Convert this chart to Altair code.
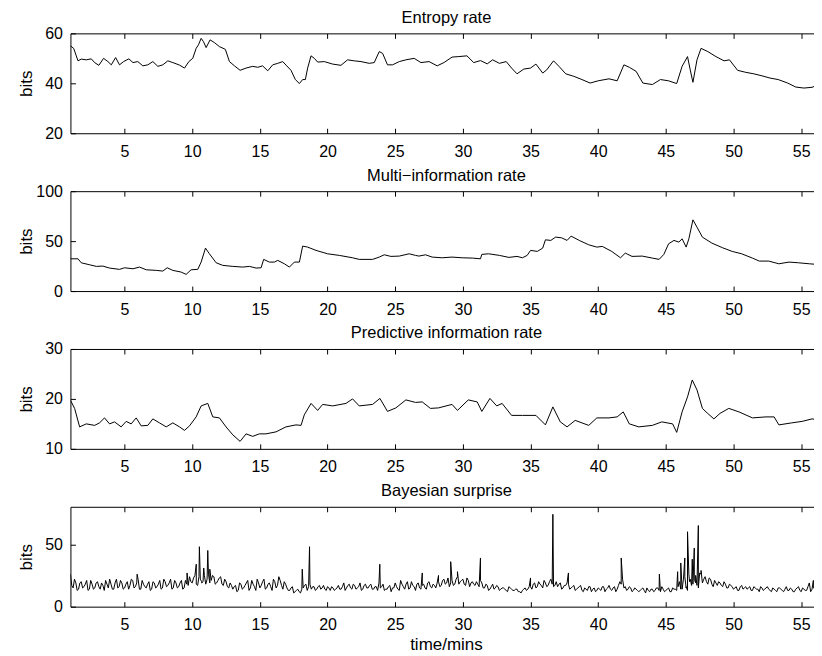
import altair as alt
import pandas as pd

FONT = "Liberation Sans"
W, H = 752, 100

x_ticks = [5, 10, 15, 20, 25, 30, 35, 40, 45, 50, 55]

entropy_t = [1.0, 1.24, 1.56, 1.8, 2.17, 2.54, 2.79, 3.1, 3.45, 3.77,
             4.02, 4.34, 4.63, 4.93, 5.32, 5.62, 5.98, 6.35, 6.72, 7.09,
             7.46, 7.83, 8.2, 8.57, 9.06, 9.43, 9.75, 10.04, 10.29, 10.46,
             10.66, 10.83, 11.03, 11.32, 11.64, 12.01, 12.45, 12.75, 13.12, 13.54,
             13.98, 14.47, 14.84, 15.2, 15.58, 15.95, 16.32, 16.69, 16.98, 17.3,
             17.62, 17.92, 18.16, 18.36, 18.53, 18.78, 19.02, 19.27, 19.76, 20.38,
             20.99, 21.48, 21.97, 22.47, 23.08, 23.45, 23.82, 24.07, 24.43, 24.8,
             25.3, 25.79, 26.4, 26.9, 27.5, 28.1, 28.6, 29.2, 29.7, 30.3,
             30.8, 31.3, 31.8, 32.2, 32.7, 33.2, 33.6, 34.0, 34.5, 35.0,
             35.4, 35.9, 36.2, 36.7, 37.1, 37.6, 38.2, 38.8, 39.4, 40.0,
             40.8, 41.4, 41.9, 42.3, 42.8, 43.3, 44.0, 44.6, 45.2, 45.8,
             46.2, 46.6, 46.8, 47.0, 47.3, 47.6, 48.1, 48.7, 49.3, 49.7,
             50.3, 50.9, 51.5, 52.1, 52.7, 53.3, 54.0, 54.6, 55.2, 55.8,
             56.5]
entropy_v = [55, 54, 49, 49.7, 49.4, 49.8, 48.3, 47.2, 50, 48.7,
             47.4, 50.3, 47.4, 48.7, 49.8, 48.3, 48.7, 47, 47.4, 48.7,
             46.8, 47.4, 49, 48.3, 47.3, 46.1, 48.7, 50, 54, 55.4,
             58, 56.7, 54.3, 57.4, 56.3, 54.7, 53.6, 48.7, 47, 45.2,
             46.1, 46.8, 46.4, 47, 45, 47.4, 48, 48.7, 47, 45.2,
             41.5, 39.9, 41.5, 41.5, 46.1, 51, 50, 48.5, 48.7, 47.7,
             47.2, 49.4, 49, 48.7, 48, 48.3, 52.7, 52, 47.4, 47.4,
             48.7, 49.4, 50, 48.3, 48.7, 47, 48.3, 50.5, 50.7, 51,
             48.3, 49.1, 47.8, 49.4, 48, 48.7, 46.1, 43.8, 45.7, 46.1,
             47.7, 44.1, 45.4, 49, 46.8, 43.8, 42.8, 41.5, 40.1, 41,
             41.8, 41, 47.4, 46.4, 44.8, 40.1, 39.5, 41.5, 41, 39.9,
             46.8, 50.7, 45.4, 40.4, 49.4, 54, 52.7, 50.7, 49, 49.4,
             45.2, 44.4, 43.8, 43, 42.1, 41.5, 40.1, 38.5, 38.1, 38.4,
             39.9]

multi_t = [1.01, 1.56, 1.8, 2.42, 2.91, 3.4, 3.89, 4.63, 5.0, 5.62,
           6.11, 6.6, 7.34, 7.83, 8.15, 8.57, 9.18, 9.55, 9.92, 10.41,
           10.66, 10.98, 11.27, 11.77, 12.26, 13.0, 13.73, 14.23, 14.72, 15.09,
           15.28, 15.7, 16.07, 16.32, 16.81, 17.18, 17.55, 17.92, 18.16, 18.53,
           19.15, 20.0, 20.87, 21.85, 22.34, 23.33, 23.82, 24.19, 24.68, 25.3,
           26.03, 26.5, 26.75, 27.24, 27.73, 28.47, 29.2, 29.95, 30.7, 31.3,
           31.4, 31.9, 32.7, 33.4, 34.0, 34.4, 34.75, 35.0, 35.5, 35.9,
           36.1, 36.5, 36.85, 37.3, 37.7, 38.0, 38.6, 39.3, 39.9, 40.3,
           41.0, 41.65, 42.0, 42.5, 43.25, 44.0, 44.5, 44.85, 45.2, 45.6,
           45.96, 46.2, 46.5, 46.7, 47.0, 47.3, 47.7, 48.4, 49.2, 49.9,
           50.6, 51.4, 51.9, 52.6, 53.35, 54.1, 54.8, 55.6, 56.5]
multi_v = [32.3, 32.3, 28.3, 26.3, 24.7, 25, 23, 21.7, 23.3, 22.3,
           24, 21.3, 20.7, 20, 23.3, 20.7, 19, 16.7, 21.3, 21.7,
           29, 43, 37.3, 28.3, 25.7, 24.7, 24, 24.7, 23, 23.3,
           31.7, 29, 29, 30.7, 27.3, 24, 29, 29, 45, 44,
           40.7, 37.3, 35.7, 33.3, 31.7, 31.7, 34, 36.3, 34.7, 35,
           37.3, 35.7, 35, 36.3, 34, 33.3, 34, 33.3, 33, 32.3,
           36.7, 37.3, 35.7, 33.7, 34.7, 33.3, 35.7, 40.7, 39.7, 43,
           51.3, 50.7, 54, 53.3, 50.7, 55, 50.7, 46.3, 44, 44.7,
           39.7, 33.3, 38, 34.7, 35, 33, 31.7, 36.7, 47.3, 50.7,
           49, 52.3, 44, 52.3, 71.3, 64, 54, 48, 43.3, 39.7,
           37.3, 33, 30, 30, 27.3, 29, 28.3, 27.3, 26.3]

pred_t = [1.01, 1.31, 1.68, 2.17, 2.79, 3.15, 3.52, 3.89, 4.26, 4.75,
          5.12, 5.49, 5.86, 6.23, 6.72, 7.09, 7.58, 8.08, 8.57, 9.06,
          9.43, 9.8, 10.29, 10.66, 11.15, 11.52, 12.01, 12.5, 13.0, 13.54,
          13.98, 14.47, 14.96, 15.45, 16.19, 16.93, 17.67, 18.04, 18.28, 18.78,
          19.27, 19.64, 20.38, 21.36, 21.85, 22.34, 23.33, 23.87, 24.43, 25.05,
          25.79, 26.5, 27.0, 27.6, 28.2, 29.2, 29.6, 30.4, 31.06, 31.4,
          32.0, 32.5, 32.9, 33.6, 34.4, 35.4, 36.1, 36.65, 37.2, 37.7,
          38.3, 39.3, 39.9, 40.8, 41.4, 41.85, 42.3, 43.0, 44.0, 44.7,
          45.5, 45.8, 46.2, 46.6, 46.95, 47.3, 47.7, 48.05, 48.55, 49.0,
          49.65, 50.4, 51.4, 52.4, 53.0, 53.35, 54.3, 55.07, 55.8, 56.5]
pred_v = [19.7, 18.1, 14.4, 15, 14.7, 15.2, 16.2, 15, 15.4, 14.4,
          15.5, 15, 16.2, 14.6, 14.7, 16, 15.2, 14.4, 15.2, 14.4,
          13.7, 14.6, 16.4, 18.6, 19.1, 16.4, 16.2, 14.4, 12.8, 11.5,
          13, 12.5, 13, 13, 13.4, 14.4, 14.8, 14.7, 16.8, 19.1,
          17.7, 18.9, 18.6, 19.1, 20, 18.6, 18.9, 20.1, 17.5, 18.2,
          19.8, 19.3, 19.4, 18.1, 18.2, 18.9, 17.7, 19.8, 19.4, 17.5,
          20.1, 18.6, 19.1, 16.7, 16.7, 16.7, 14.8, 18.4, 15.4, 14.4,
          15.7, 14.7, 16.2, 16.2, 16.4, 17.4, 15, 14.4, 14.7, 15.4,
          15, 13.3, 17.4, 20.4, 23.8, 21.8, 18.1, 17.2, 16, 17.1,
          18.1, 17.4, 16.2, 16.4, 16.4, 14.8, 15.2, 15.5, 16, 15.7]

# Bayesian surprise: background readings every 0.2 min from t = 1.0,
# and the readings in between (t = 1.1, 1.3, ...)
surprise_start = 1.0
surprise_step = 0.2
surprise_base = [26, 15, 19, 14, 20, 16, 21, 14, 18, 15,
                 20, 14, 17, 21, 15, 18, 14, 22, 16, 19,
                 15, 20, 17, 21, 16, 22, 14, 18, 15, 20,
                 14, 19, 16, 21, 15, 20, 17, 22, 15, 19,
                 16, 21, 15, 18, 24, 19, 25, 17, 22, 20,
                 18, 26, 21, 24, 19, 23, 18, 22, 16, 19,
                 14, 17, 13, 18, 15, 19, 13, 21, 16, 22,
                 15, 20, 14, 18, 16, 22, 15, 24, 17, 20,
                 15, 13, 16, 12, 14, 11, 15, 18, 16, 14,
                 16, 14, 17, 15, 14, 16, 13, 15, 14, 17,
                 14, 19, 15, 18, 14, 17, 15, 19, 14, 18,
                 15, 18, 14, 16, 19, 16, 13, 14, 17, 15,
                 19, 14, 21, 16, 18, 14, 20, 16, 18, 15,
                 17, 15, 19, 16, 18, 15, 20, 17, 22, 19,
                 16, 21, 18, 24, 20, 22, 17, 21, 19, 18,
                 20, 16, 19, 15, 17, 14, 18, 15, 16, 14,
                 15, 13, 16, 14, 13, 14, 12, 13, 15, 14,
                 16, 18, 15, 20, 17, 21, 16, 20, 18, 17,
                 16, 19, 15, 17, 18, 15, 17, 14, 16, 13,
                 15, 13, 16, 14, 12, 15, 13, 16, 14, 17,
                 13, 16, 14, 20, 22, 16, 14, 15, 13, 14,
                 12, 14, 13, 15, 12, 14, 13, 15, 12, 14,
                 13, 15, 12, 14, 13, 20, 14, 24, 13, 22,
                 18, 25, 15, 26, 22, 20, 23, 18, 21, 17,
                 19, 16, 18, 15, 17, 14, 16, 13, 17, 15,
                 14, 16, 13, 15, 14, 16, 13, 15, 14, 12,
                 14, 12, 15, 13, 14, 13, 15, 12, 14, 16,
                 12, 14, 13, 19, 14, 15, 12, 16]
surprise_mid = [17, 22, 13, 19, 15, 18, 13, 21, 14, 19,
                16, 19, 13, 18, 22, 14, 19, 15, 21, 14,
                18, 14, 22, 15, 19, 14, 21, 16, 18, 13,
                20, 15, 18, 14, 22, 16, 19, 14, 21, 15,
                19, 14, 21, 17, 20, 23, 18, 24, 19, 25,
                22, 19, 25, 18, 21, 24, 17, 20, 15, 17,
                16, 12, 19, 14, 17, 21, 15, 18, 13, 19,
                17, 22, 15, 19, 13, 20, 17, 21, 14, 18,
                13, 15, 11, 13, 12, 14, 17, 13, 18, 16,
                13, 16, 14, 17, 13, 15, 16, 13, 15, 14,
                16, 13, 17, 15, 18, 14, 16, 13, 17, 15,
                17, 14, 16, 13, 15, 18, 14, 16, 12, 15,
                16, 13, 18, 14, 20, 15, 17, 13, 19, 14,
                18, 14, 20, 15, 17, 19, 16, 21, 18, 23,
                19, 17, 22, 18, 21, 18, 23, 16, 20, 17,
                18, 21, 15, 18, 13, 16, 14, 17, 13, 15,
                14, 12, 15, 13, 14, 12, 11, 14, 13, 16,
                14, 19, 16, 18, 15, 19, 17, 22, 16, 20,
                18, 14, 17, 19, 14, 16, 13, 15, 17, 12,
                14, 16, 12, 15, 13, 14, 16, 12, 15, 14,
                15, 12, 17, 18, 15, 13, 16, 12, 15, 13,
                13, 15, 11, 13, 14, 12, 15, 13, 16, 12,
                14, 12, 15, 14, 16, 14, 22, 15, 26, 17,
                22, 17, 27, 19, 24, 18, 22, 16, 19, 20,
                17, 20, 15, 18, 16, 15, 13, 16, 14, 16,
                15, 13, 16, 14, 12, 15, 14, 16, 13, 15,
                13, 15, 14, 12, 16, 13, 14, 12, 15, 13,
                15, 13, 16, 12, 15, 14, 13]
spike_t = [5.93, 9.62, 10.3, 10.53, 10.7, 10.85, 11.15, 11.3, 18.13, 18.67,
           23.86, 27.0, 28.2, 29.1, 29.6, 31.3, 35.0, 36.65, 37.8, 41.7,
           44.52, 45.87, 46.1, 46.25, 46.4, 46.5, 46.6, 46.75, 46.95, 47.1,
           47.2, 47.4, 47.6, 55.9]
spike_v = [26, 27, 34, 48, 20, 31, 45, 30, 30, 48,
           34, 27, 25, 36, 28, 39, 23, 74, 27, 39,
           26, 28, 35, 18, 39, 16, 60, 20, 38, 47,
           19, 65, 29, 21]


def series_df(ts, vs):
    return pd.DataFrame({"t": ts, "v": vs})


surprise_t = [surprise_start + surprise_step * i for i in range(len(surprise_base))]
surprise_mid_t = [surprise_start + surprise_step * (i + 0.5) for i in range(len(surprise_mid))]
surprise_df = pd.concat([series_df(surprise_t, surprise_base),
                         series_df(surprise_mid_t, surprise_mid),
                         series_df(spike_t, spike_v)]).sort_values("t").reset_index(drop=True)

TICK = dict(ticks=True, tickSize=5, tickColor="black", tickWidth=1, offset=-5,
            domain=False, grid=False)
LBL = dict(labelFontSize=16, labelFont=FONT, labelColor="black", labelFlush=False)


def panel(df, title, ydomain, yticks, xtitle=None):
    xs = alt.Scale(domain=[1, 56.5], nice=False, zero=False)
    ys = alt.Scale(domain=ydomain, nice=False, zero=False)

    bottom_kw = dict(orient="bottom", values=x_ticks, labelPadding=10, **TICK, **LBL)
    if xtitle:
        bottom_kw.update(title=xtitle, titleFont=FONT, titleFontSize=17,
                         titleFontWeight="normal", titleColor="black", titlePadding=4)
    else:
        bottom_kw.update(title=None)
    left = alt.Axis(orient="left", values=yticks, labelPadding=8, **TICK, **LBL,
                    title="bits", titleFont=FONT, titleFontSize=17,
                    titleFontWeight="normal", titleColor="black",
                    titleX=-49, titleY=H / 2, titleAngle=270,
                    titleAlign="center", titleBaseline="middle")
    top = alt.Axis(orient="top", values=x_ticks, labels=False, **TICK,
                   title=title, titleFont=FONT, titleFontSize=16.5,
                   titleFontWeight="normal", titleColor="black",
                   titleX=W / 2, titleY=-16, titleAngle=0,
                   titleAlign="center", titleBaseline="alphabetic")
    right = alt.Axis(orient="right", values=yticks, labels=False, title=None, **TICK)

    line = alt.Chart(df).mark_line(color="black", strokeWidth=1, clip=True).encode(
        x=alt.X("t:Q", scale=xs, axis=alt.Axis(**bottom_kw)),
        y=alt.Y("v:Q", scale=ys, axis=left),
        order="t:Q",
    )
    ghost = alt.Chart(df).mark_line(color="black", opacity=0, clip=True).encode(
        x=alt.X("t:Q", scale=xs, axis=top),
        y=alt.Y("v:Q", scale=ys, axis=right),
        order="t:Q",
    )
    return alt.layer(line, ghost).resolve_axis(x="independent", y="independent").properties(
        width=W, height=H)


p1 = panel(series_df(entropy_t, entropy_v), "Entropy rate", [20, 60], [20, 40, 60])
p2 = panel(series_df(multi_t, multi_v), "Multi\u2212information rate", [0, 100], [0, 50, 100])
p3 = panel(series_df(pred_t, pred_v), "Predictive information rate", [10, 30], [10, 20, 30])
p4 = panel(surprise_df, "Bayesian surprise", [0, 80], [0, 50], xtitle="time/mins")

chart = alt.vconcat(p1, p2, p3, p4, spacing=6).properties(
    padding={"left": 8.5, "top": 0, "right": -8.5, "bottom": 0},
    background="white",
).configure_view(stroke="black", strokeWidth=1)

chart.save("out.html", embed_options={"renderer": "svg", "actions": False})
